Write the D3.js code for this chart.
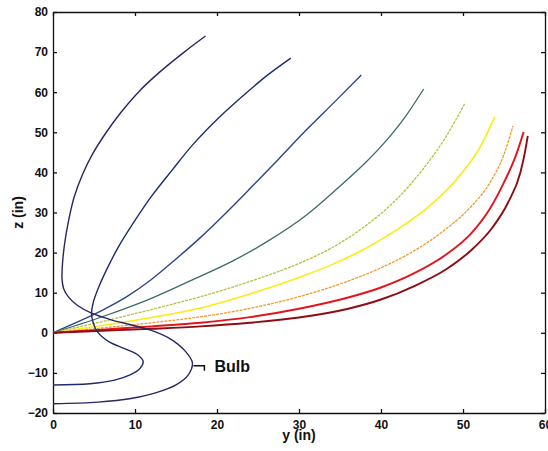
<!DOCTYPE html>
<html>
<head>
<meta charset="utf-8">
<script src="https://cdn.jsdelivr.net/npm/d3@7"></script>
<style>
  body { margin: 0; background: #fff; }
  svg { display: block; font-family: "Liberation Sans", Arial, Helvetica, sans-serif; }
  .axis text { font-size: 12px; font-weight: bold; fill: #111; }
  .axis path, .axis line { stroke: #111; stroke-width: 1.3; }
</style>
</head>
<body>
<svg id="drawing_region"></svg>
<script>
// tick values
const xTicks = [0, 10, 20, 30, 40, 50, 60];
const zTicks = [-20, -10, 0, 10, 20, 30, 40, 50, 60, 70, 80];

// curves as [y, z] pairs, in inches
const bulbOuter = [[18.6,74.0],[16.0,70.0],[13.0,65.0],[10.5,60.2],[8.3,55.0],[6.4,49.7],[4.8,44.5],[3.6,39.5],
  [2.6,34.0],[1.9,28.0],[1.4,22.0],[1.15,17.0],[1.1,13.5],[1.3,11.0],[1.9,8.9],[3.0,6.8],[4.7,4.9],[7.0,3.3],
  [9.5,2.0],[12.0,0.6],[14.3,-1.5],[16.1,-4.5],[17.0,-7.5],[16.5,-10.5],[15.0,-13.0],[12.5,-15.0],[9.5,-16.4],
  [5.5,-17.3],[0,-17.7]];
const bulbInner = [[29.0,68.5],[26.0,64.0],[23.0,58.8],[20.0,53.2],[17.0,46.8],[14.5,40.5],[12.0,34.0],[9.8,27.4],
  [8.0,21.5],[6.6,16.0],[5.6,11.5],[4.9,7.5],[4.7,4.7],[4.9,2.5],[5.4,0.3],[6.8,-2.2],[8.8,-4.0],[10.4,-5.6],
  [11.0,-7.2],[10.6,-8.9],[9.4,-10.5],[7.5,-11.8],[4.5,-12.7],[0,-13.0]];
const curve3 = [[0,0],[3,2.7],[6,5.6],[9,9.0],[12,13.3],[15,18.4],[18,23.8],[21,29.7],[24,35.9],[27.5,43.3],
  [31,50.8],[34.5,57.9],[37.6,64.3]];
const curve4 = [[0,0],[6,4.0],[12,8.6],[17,13.2],[22,18.0],[26,22.6],[31,29.5],[35.5,37.5],[38,42.2],[40.5,47.6],
  [43,54.0],[45.2,60.8]];
const curve5 = [[0,0],[6,2.8],[12,5.8],[18,9.0],[24,12.8],[30,17.3],[34,21.2],[38,26.5],[42,33.5],[45,40.5],
  [47.8,48.5],[50.2,57.1]];
const curve6 = [[0,0],[6,1.8],[12,3.8],[18,6.2],[24,9.7],[30,13.8],[34,17.0],[38,20.9],[42,25.8],[46,31.8],
  [49.3,38.5],[52,46.0],[53.9,53.9]];
const curve7 = [[0,0],[6,1.2],[12,2.5],[18,4.0],[24,6.1],[30,9.0],[36,12.9],[40,16.2],[44,20.4],[48,26.0],
  [51,31.5],[53.3,37.5],[55,44.5],[56.1,51.6]];
const curve8 = [[0,0],[6,0.8],[12,1.6],[18,2.5],[24,3.9],[30,6.0],[36,8.8],[40,11.3],[44,14.8],[48,19.6],
  [51,24.8],[53.3,31.0],[55,37.5],[56.5,44.5],[57.4,50.1]];
const curve9 = [[0,0],[6,0.5],[12,1.0],[18,1.6],[24,2.5],[30,3.8],[36,6.0],[40,8.3],[44,11.6],[48,15.9],
  [51,20.6],[53.5,26.0],[55.5,32.5],[57,40.0],[57.6,45.5],[57.9,49.1]];

const bulbs = [bulbOuter, bulbInner];
const bulbColors = ['#2a2660', '#1f2c6a'];
const fans = [curve3, curve4, curve5, curve6, curve7, curve8, curve9];
const fanColors = ['#2b4688', '#3b6a6a', '#b4c244', '#fbec14', '#ef9a2e', '#e3141c', '#8e0c14'];
const fanWidths = [1.4, 1.3, 1.3, 1.6, 1.3, 1.9, 1.9];
const fanDash = [null, null, '3,1', null, '3,1', null, null];

const config = {
  width: 548,
  height: 451,
  margin: {top: 12, right: 3, bottom: 38, left: 53},
};

const svg = d3.select('#drawing_region')
  .attr('width', config.width)
  .attr('height', config.height);

const inner_width = config.width - config.margin.left - config.margin.right;
const inner_height = config.height - config.margin.top - config.margin.bottom;

const chart = svg.append('g')
  .attr('transform', `translate(${config.margin.left}, ${config.margin.top})`);

const xscale = d3.scaleLinear().domain([0, 60]).range([0, inner_width]);
const zscale = d3.scaleLinear().domain([-20, 80]).range([inner_height, 0]);

// axes, ticks pointing inward like the original
chart.append('g').attr('class', 'axis')
  .attr('transform', `translate(0, ${inner_height})`)
  .call(d3.axisBottom(xscale).tickValues(xTicks).tickSize(-4).tickPadding(7).tickSizeOuter(0));
chart.append('g').attr('class', 'axis')
  .call(d3.axisLeft(zscale).tickValues(zTicks).tickSize(-4).tickPadding(5).tickSizeOuter(0));
chart.append('g').attr('class', 'axis')
  .call(d3.axisTop(xscale).tickValues(xTicks).tickSize(-4).tickFormat('').tickSizeOuter(0));
chart.append('g').attr('class', 'axis')
  .attr('transform', `translate(${inner_width}, 0)`)
  .call(d3.axisRight(zscale).tickValues(zTicks).tickSize(-4).tickFormat('').tickSizeOuter(0));

// clip so nothing pokes past the box
chart.append('clipPath').attr('id', 'box')
  .append('rect').attr('width', inner_width).attr('height', inner_height);

const plot = chart.append('g').attr('clip-path', 'url(#box)');

// bulb profiles fold back on themselves, the rest are functions of y
const bulbLine = d3.line()
  .x(d => xscale(d[0]))
  .y(d => zscale(d[1]))
  .curve(d3.curveCatmullRom.alpha(0.5));
const fanLine = d3.line()
  .x(d => xscale(d[0]))
  .y(d => zscale(d[1]))
  .curve(d3.curveMonotoneX);

plot.selectAll('path.fan')
  .data(fans)
  .join('path')
  .attr('class', 'fan')
  .attr('d', fanLine)
  .attr('fill', 'none')
  .attr('stroke', (d, i) => fanColors[i])
  .attr('stroke-width', (d, i) => fanWidths[i])
  .attr('stroke-dasharray', (d, i) => fanDash[i]);

plot.selectAll('path.bulb')
  .data(bulbs)
  .join('path')
  .attr('class', 'bulb')
  .attr('d', bulbLine)
  .attr('fill', 'none')
  .attr('stroke', (d, i) => bulbColors[i])
  .attr('stroke-width', 1.4)
  .attr('stroke-linejoin', 'round');

// "Bulb" callout
const bulbTip = [17.0, -8.2];
const bx = xscale(bulbTip[0]), bz = zscale(bulbTip[1]);
chart.append('path')
  .attr('d', `M${bx + 1},${bz} H${bx + 12} V${bz + 5}`)
  .attr('fill', 'none')
  .attr('stroke', '#111')
  .attr('stroke-width', 1.5);
chart.append('text')
  .attr('x', bx + 22)
  .attr('y', bz + 6)
  .attr('font-size', 16)
  .attr('font-weight', 'bold')
  .attr('fill', '#111')
  .text('Bulb');

// axis titles
svg.append('text')
  .attr('x', config.margin.left + inner_width / 2)
  .attr('y', 440)
  .attr('text-anchor', 'middle')
  .attr('font-size', 14)
  .attr('font-weight', 'bold')
  .attr('fill', '#111')
  .text('y (in)');
svg.append('text')
  .attr('transform', `translate(23, ${config.margin.top + inner_height / 2}) rotate(-90)`)
  .attr('text-anchor', 'middle')
  .attr('font-size', 14)
  .attr('font-weight', 'bold')
  .attr('fill', '#111')
  .text('z (in)');
</script>
</body>
</html>
